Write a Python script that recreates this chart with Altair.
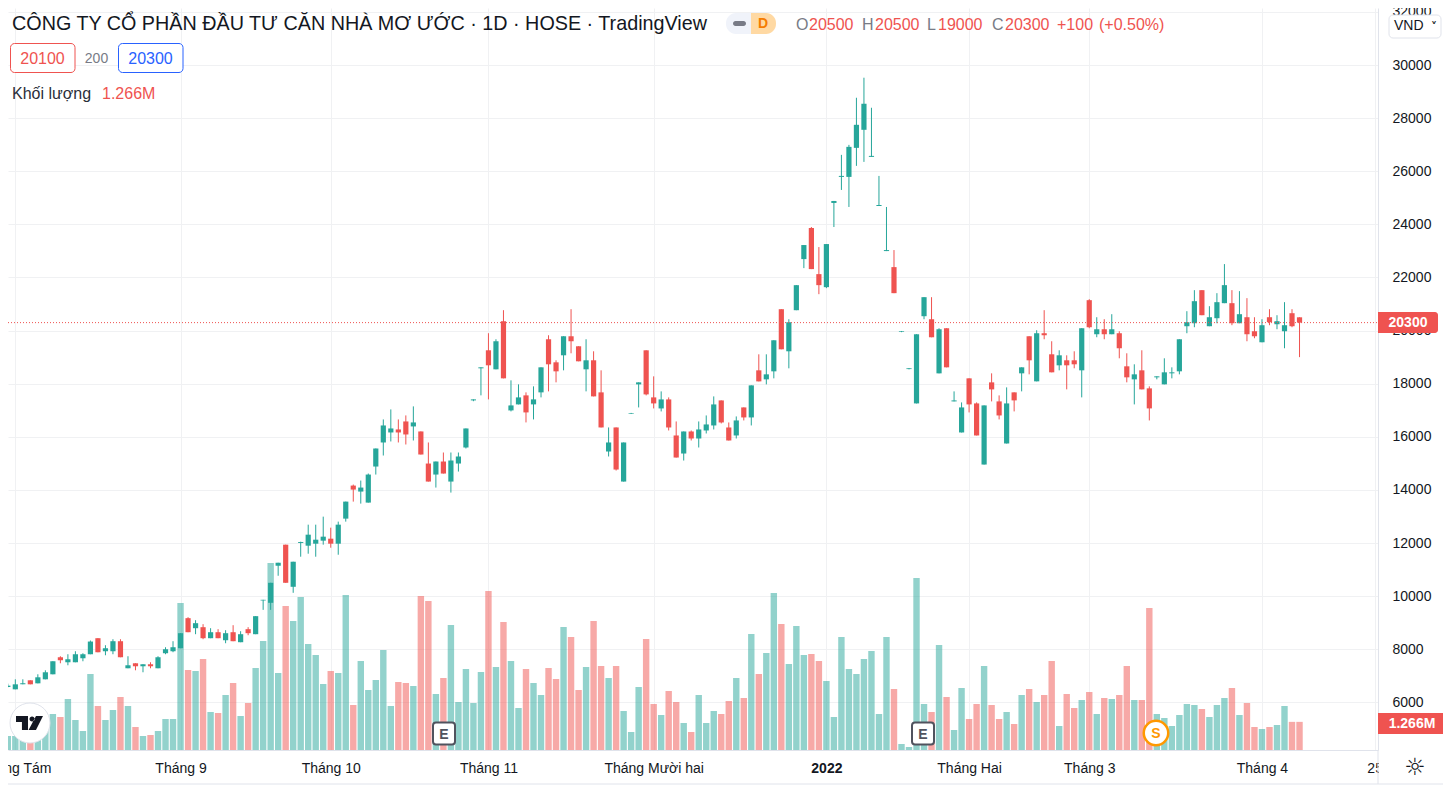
import altair as alt
import pandas as pd

opens = [
    6478,6578,6490,6679,6830,6716,6867,7056,7698,7509,
    7509,7660,7811,8415,7924,7924,8302,7283,7471,7358,
    7434,7283,7849,7924,8037,9170,8792,8830,8415,8641,
    8339,8641,8264,8755,8566,9836,9748,11144,11937,10351,
    12000,11899,11974,12088,12163,11974,12918,14163,13937,13522,
    14880,15786,16163,16277,16578,16390,16201,14993,14578,15069,
    14314,14993,15597,17371,18579,19258,18541,20352,16994,17220,
    17560,17220,17673,19673,18805,19069,19786,19409,18541,18881,
    17673,15446,16352,14314,16867,17974,19257,17484,17068,17408,
    16050,15370,16200,15936,16238,16427,17370,16351,16050,17106,
    16729,18503,18163,18465,20805,19220,20767,22692,23862,22126,
    21635,24806,25787,25787,26881,27561,26541,24692,22994,22390,
    19950,18550,17257,20541,20427,18389,20088,17333,16163,18201,
    17257,14955,18050,17333,15748,17673,18390,19786,18088,19900,
    19107,18692,18881,18881,18503,21145,19862,20050,19862,19900,
    18654,18163,18503,17824,18239,17975,18390,18466,20164,20277,
    21522,20164,20466,21032,21032,20277,20503,19975,19560,20503,
    20239,19975,20654,20500,
]
highs = [
    6640,6704,6867,6867,6830,7056,7207,7547,7736,7811,
    7924,7849,8327,8415,8151,8377,8377,7736,7471,7434,
    7509,7736,8075,8302,8604,9207,9094,8943,8792,8755,
    8717,8905,8679,8830,9245,9861,10502,11257,11937,11295,
    12050,12691,12691,12993,12578,12805,13559,14201,14352,14617,
    15559,16654,17031,16654,16805,17145,16201,15786,15069,15408,
    15408,15408,16314,17409,18616,19900,19673,20768,18126,17975,
    17673,17899,18616,19824,18881,19786,20805,19409,19673,19220,
    18503,16352,16352,15786,16900,18050,19257,18276,17710,17484,
    16578,16200,16238,16578,16804,17521,17370,16540,16767,17106,
    17936,19106,19106,19635,20805,20427,21710,23221,23900,23145,
    23258,24881,26617,26994,28768,29523,28391,25824,24655,23032,
    19985,18590,19861,21258,21258,20088,20088,17710,17295,18201,
    17295,17182,18390,17559,17861,17673,18616,19786,20013,20768,
    19598,19258,19069,19220,20088,21183,20503,20428,20617,19975,
    19145,18730,19258,17899,18277,18956,18616,19673,20730,21522,
    21522,20919,21409,22504,21522,21485,21221,20503,20428,20805,
    20579,21070,20805,20500,
]
lows = [
    6450,6565,6490,6679,6679,6716,6867,7056,7471,7396,
    7509,7547,7811,7886,7773,7811,7698,7283,7207,7132,
    7283,7283,7811,7887,8037,8641,8566,8377,8415,8415,
    8226,8302,8264,8528,8566,9483,9483,10767,10502,10125,
    11484,11597,11484,11937,11823,11559,12805,13559,13484,13522,
    14578,15295,15824,15786,15710,15861,15333,14314,14088,14616,
    13899,14691,15560,17340,17560,17409,18541,18201,16956,17220,
    16541,16654,17484,17711,18050,18503,19145,18843,17711,17522,
    16352,15258,14730,14314,16860,17106,17559,17068,16955,16238,
    15219,15106,15861,15597,16125,16276,16503,15861,15936,16616,
    16427,18087,17974,18201,19295,18578,20767,22352,22315,21371,
    21598,23900,25296,24655,26202,26353,26541,24692,22994,21409,
    19940,18540,17257,20427,19748,18389,18616,17333,16163,16918,
    16050,14955,17333,16654,15748,16956,17711,18352,18088,19673,
    18428,18503,17786,18579,17484,20088,19749,19673,19862,18956,
    18051,17220,17786,16616,18164,17975,18201,18352,19900,20126,
    20579,20164,20277,21032,20202,20277,19598,19711,19560,20202,
    20051,19334,20126,19000,
]
closes = [
    6590,6628,6678,6716,6679,6943,7132,7547,7585,7622,
    7811,7811,8289,7886,8037,8302,7698,7396,7358,7434,
    7358,7698,8000,8075,8604,8641,8981,8415,8641,8415,
    8604,8302,8566,8604,9245,9861,10502,11257,10502,11295,
    12036,12314,12125,12239,11974,12691,13559,14012,14088,14578,
    15559,16427,16314,16163,16088,16541,15333,14314,15069,14616,
    15107,15258,16314,17409,18616,18692,19598,18201,17182,17484,
    16918,17409,18616,18730,18465,19786,19598,18843,18881,17522,
    16352,15786,14767,15786,16890,18050,17597,17257,17408,16351,
    15219,16200,15936,16276,16465,17219,16540,15861,16616,16729,
    17936,18087,18352,19635,19295,20314,21710,23221,22315,21711,
    23258,24881,25825,26919,27749,28542,26579,24730,23032,21409,
    19975,18580,19861,21258,19748,20050,18616,17370,17106,17220,
    16050,17182,17785,16804,17257,17371,18616,18880,19900,19824,
    18428,19069,18692,18730,20088,20126,20050,19862,20050,19334,
    18239,18352,17786,17069,18277,18428,18428,19673,20315,21107,
    20579,20503,21070,21711,20277,20617,19862,19786,20202,20315,
    20353,20202,20164,20300,
]
volumes = [
    495,630,630,720,900,1050,1350,1620,1485,2295,
    1350,855,3420,1980,1350,1800,2385,1980,1035,630,
    675,855,1395,1395,6615,3600,3555,4095,1710,1665,
    2475,3015,1530,2115,3690,4905,8415,3465,6480,5805,
    6885,4770,4275,2970,3555,3465,6975,2025,4005,2700,
    3150,4500,1980,3060,3015,2880,6930,6705,2520,3240,
    5625,2160,3645,2115,3510,7155,3735,5760,4005,1890,
    3645,3015,2475,3690,3195,5535,5085,2700,3735,5805,
    3780,3240,3780,1755,810,2835,4995,2070,1575,2655,
    2160,1215,810,2475,1215,1755,1620,2205,3240,2340,
    5220,3420,4365,7065,5670,3870,5580,4275,4320,4005,
    3105,1485,5085,3645,3420,4095,4455,1620,5085,2745,
    270,135,7740,2070,1710,4725,2385,900,2790,1395,
    2070,3780,2025,1395,1710,1170,2475,2745,2160,2475,
    4005,1080,2520,1890,2250,2610,1620,2340,2295,2475,
    3780,2250,2250,6390,1620,1440,1080,1575,2070,2025,
    1845,1485,2025,2340,2790,1575,2115,1035,945,1035,
    1125,1980,1266,1266,
]
month_idx = [2, 24, 44, 65, 87, 110, 129, 145, 168, 183]
month_labels = ["Tháng Tám", "Tháng 9", "Tháng 10", "Tháng 11", "Tháng Mười hai",
                "2022", "Tháng Hai", "Tháng 3", "Tháng 4", "25"]
price_ticks = list(range(6000, 34000, 2000))
last_close = 20300

FONT = "Liberation Sans"
UP, DOWN = "#26a69a", "#ef5350"
GRID = "#f0f1f3"
BORDER = "#e0e3eb"
TEXT = "#131722"
GREY = "#787b86"

df = pd.DataFrame({
    "i": range(len(opens)), "open": opens, "high": highs,
    "low": lows, "close": closes, "volume": volumes,
})
df["dir"] = ["up" if c >= o else "down" for o, c in zip(opens, closes)]

W, H = 1370, 742
x_scale = alt.Scale(domain=[1.025, 183.45], nice=False, zero=False, padding=0)
p_scale = alt.Scale(domain=[4205, 32148], nice=False, zero=False)
v_scale = alt.Scale(domain=[0, 33390], nice=False, zero=False)
c_scale = alt.Scale(domain=["up", "down"], range=[UP, DOWN])
color = alt.Color("dir:N", scale=c_scale, legend=None)

label_expr = "{" + ",".join(f"'{i}':'{t}'" for i, t in zip(month_idx, month_labels)) + "}[''+datum.value]"
x_axis = alt.Axis(
    values=month_idx, labelExpr=label_expr, title=None, grid=True, gridColor=GRID,
    domainColor=BORDER, ticks=False, labelPadding=11, labelFontSize=14, labelFont=FONT,
    labelColor=TEXT, labelOverlap=False, labelFlush=False, labelBound=False,
    labelFontWeight={"condition": {"test": "datum.value == 110", "value": "bold"}, "value": "normal"},
)
y_axis = alt.Axis(
    orient="right", values=price_ticks, title=None, grid=True, gridColor=GRID,
    domainColor=BORDER, ticks=False, labelPadding=14, labelFontSize=14, labelFont=FONT,
    labelColor=TEXT, labelOverlap=False, format="d",
)

X = alt.X("i:Q", scale=x_scale, axis=x_axis)

vol = alt.Chart(df).mark_bar(size=6.4, orient="vertical", opacity=0.5).encode(
    x=X,
    y=alt.Y("volume:Q", scale=v_scale, axis=None),
    color=color,
)
# Price layers share one nested layer, so one y scale and one right-hand axis
wick = alt.Chart(df).mark_rule(strokeWidth=1).encode(
    x=X,
    y=alt.Y("low:Q", scale=p_scale, axis=y_axis),
    y2="high:Q",
    color=color,
)
body = alt.Chart(df).mark_bar(size=5.2, orient="vertical").encode(
    x=X,
    y=alt.Y("open:Q", scale=p_scale, axis=y_axis),
    y2="close:Q",
    color=color,
)
price_line = alt.Chart(alt.Data(values=[{"p": last_close}])).mark_rule(
    color=DOWN, strokeWidth=1, strokeDash=[1, 2]
).encode(y=alt.Y("p:Q", scale=p_scale, axis=y_axis), x=alt.value(0), x2=alt.value(W))
price = alt.layer(wick, body, price_line)

one = alt.Data(values=[{}])


def text(s, x, y, size=16, col=TEXT, align="left", weight="normal", font=FONT):
    return alt.Chart(one).mark_text(
        align=align, baseline="middle", fontSize=size, color=col, font=font, fontWeight=weight
    ).encode(x=alt.value(x - 8), y=alt.value(y - 7), text=alt.value(s))


def box(x1, x2, y1, y2, fill="#ffffff", stroke=None, radius=0, **kw):
    opts = dict(fill=fill, cornerRadius=radius)
    if stroke:
        opts.update(stroke=stroke, strokeWidth=1)
    opts.update(kw)
    return alt.Chart(one).mark_rect(**opts).encode(
        x=alt.value(x1 - 8), x2=alt.value(x2 - 8), y=alt.value(y1 - 8), y2=alt.value(y2 - 8)
    )


def hline(x1, x2, y):
    return alt.Chart(one).mark_rule(color=BORDER, strokeWidth=1).encode(
        x=alt.value(x1 - 8), x2=alt.value(x2 - 8), y=alt.value(y - 8)
    )


def vline(x, y1, y2):
    return alt.Chart(one).mark_rule(color=BORDER, strokeWidth=1).encode(
        x=alt.value(x - 8), y=alt.value(y1 - 8), y2=alt.value(y2 - 8)
    )


def symbol(shape, x, y, size, **kw):
    return alt.Chart(one).mark_point(shape=shape, size=size, **kw).encode(
        x=alt.value(x - 8), y=alt.value(y - 8)
    )


def marker(x, y, letter):
    return [box(x - 11, x + 11, y - 11, y + 11, stroke="#50535e", radius=3, strokeWidth=2),
            text(letter, x, y, 14, "#50535e", "center", "bold")]


tv_logo = ("M-1,-0.52 L-0.11,-0.52 L-0.11,0.52 L-0.56,0.52 L-0.56,-0.07 L-1,-0.07 Z "
           "M0.48,-0.52 L1,-0.52 L0.48,0.52 L-0.07,0.52 Z "
           "M0.0,-0.3 a0.19,0.19 0 1,0 0.38,0 a0.19,0.19 0 1,0 -0.38,0 Z")

overlay = [
    # bottom strip
    box(1379, 1445, 751, 783),
    hline(0, 1460, 784),
    vline(1378, 750, 784),
    text("\u263c", 1415, 767, 24, TEXT, "center", font="DejaVu Sans"),
    # tags on the price scale
    box(1378, 1438, 312, 333, fill=DOWN, cornerRadiusTopRight=3, cornerRadiusBottomRight=3),
    text("20300", 1408, 322, 14, "#ffffff", "center", "bold"),
    box(1378, 1447, 713, 734, fill=DOWN, cornerRadiusTopRight=3, cornerRadiusBottomRight=3),
    text("1.266M", 1412, 723, 14, "#ffffff", "center", "bold"),
    box(1389, 1441, 15, 38, stroke=BORDER, radius=4),
    text("VND", 1394, 25, 14),
    text("\u02c5", 1431, 26, 12, TEXT, "left", "bold", "DejaVu Sans"),
    # legend lines
    text("CÔNG TY CỔ PHẦN ĐẦU TƯ CĂN NHÀ MƠ ƯỚC · 1D · HOSE · TradingView", 12, 23, 19.75),
    box(741, 776, 13, 34, fill="#ffd9a3", radius=10),
    box(726, 751, 13, 34, fill="#f0f3fa", cornerRadiusTopLeft=10, cornerRadiusBottomLeft=10),
    box(733, 746, 21, 26, fill=GREY, radius=2.5),
    text("D", 763, 23, 14, "#f57c00", "center", "bold"),
    text("O", 796, 24, 16, GREY), text("20500", 809, 24, 16, DOWN),
    text("H", 862, 24, 16, GREY), text("20500", 875, 24, 16, DOWN),
    text("L", 927, 24, 16, GREY), text("19000", 938, 24, 16, DOWN),
    text("C", 992, 24, 16, GREY), text("20300", 1005, 24, 16, DOWN),
    text("+100", 1057, 24, 16, DOWN), text("(+0.50%)", 1099, 24, 16, DOWN),
    box(10.5, 75, 43.5, 72.5, stroke=DOWN, radius=4),
    text("20100", 42.5, 58, 16, DOWN, "center"),
    text("200", 96.5, 58, 14, GREY, "center"),
    box(118.5, 183, 43.5, 72.5, stroke="#2962ff", radius=4),
    text("20300", 150.5, 58, 16, "#2962ff", "center"),
    text("Khối lượng", 12, 93, 16, "#2a2e39"),
    text("1.266M", 102, 93, 16, DOWN),
    # chart markers and logo
    symbol("circle", 30, 723, 1600, filled=True, fill="#ffffff", stroke="#e0e3eb", strokeWidth=1, opacity=1),
    symbol(tv_logo, 29.5, 723, 729, filled=True, fill=TEXT, opacity=1),
    *marker(444, 733.5, "E"),
    *marker(923, 733.5, "E"),
    symbol("circle", 1156, 733, 600, filled=True, fill="#ffffff", stroke="#ff9800", strokeWidth=2.5, opacity=1),
    text("S", 1156, 733, 14, "#ff9800", "center", "bold"),
]

chart = alt.layer(vol, price, *overlay).resolve_scale(y="independent").properties(
    width=W, height=H,
    padding={"left": 0, "top": 0, "right": 65, "bottom": 35},
    autosize=alt.AutoSizeParams(type="none", contains="content"),
    background="#ffffff",
).configure_view(stroke=None)

chart.save("out.html", embed_options={"renderer": "svg", "actions": False})
